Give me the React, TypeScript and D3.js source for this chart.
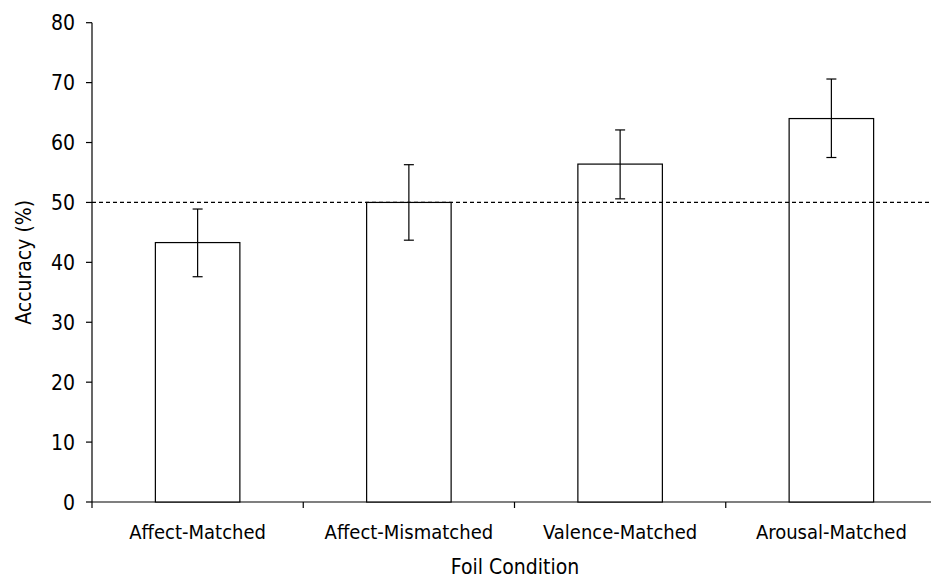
import React, { useEffect, useRef } from "react";
import * as d3 from "d3";

const categories = ["Affect-Matched", "Affect-Mismatched", "Valence-Matched", "Arousal-Matched"];
const accuracy = [43.3, 50.0, 56.4, 64.0];
const errLow = [37.6, 43.7, 50.6, 57.5];
const errHigh = [48.9, 56.3, 62.1, 70.6];
const yTicks = [0, 10, 20, 30, 40, 50, 60, 70, 80];
const chanceLevel = 50;

const WIDTH = 931;
const HEIGHT = 580;
const FONT = "'DejaVu Sans Condensed', 'Liberation Sans Narrow', Arial, sans-serif";

export default function App() {
  const ref = useRef<SVGSVGElement>(null);

  useEffect(() => {
    const svg = d3.select(ref.current);
    svg.selectAll("*").remove();

    const x = d3.scaleBand<string>().domain(categories).range([92, 937]).padding(0);
    const y = d3.scaleLinear().domain([0, 80]).range([502, 22.7]);
    const barW = x.bandwidth() * 0.4;

    // y axis
    const yAxis = svg.append("g").attr("transform", "translate(92,0)");
    yAxis.append("line").attr("y1", y(80)).attr("y2", y(0)).attr("stroke", "#000").attr("stroke-width", 1.2);
    yAxis
      .selectAll("g.tick")
      .data(yTicks)
      .join("g")
      .attr("class", "tick")
      .each(function (d) {
        const g = d3.select(this);
        g.append("line").attr("x1", -6).attr("x2", 0).attr("y1", y(d)).attr("y2", y(d)).attr("stroke", "#000").attr("stroke-width", 1.2);
        g.append("text")
          .attr("x", -17)
          .attr("y", y(d))
          .attr("dy", "0.36em")
          .attr("text-anchor", "end")
          .attr("font-size", 21)
          .attr("font-family", FONT)
          .text(d);
      });

    // x axis
    const xAxis = svg.append("g");
    xAxis.append("line").attr("x1", 92).attr("x2", WIDTH).attr("y1", y(0)).attr("y2", y(0)).attr("stroke", "#000").attr("stroke-width", 1.2);
    const bounds = categories.map((c) => x(c)!).concat([x(categories[3])! + x.bandwidth()]);
    xAxis
      .selectAll("line.tk")
      .data(bounds)
      .join("line")
      .attr("class", "tk")
      .attr("x1", (d) => d)
      .attr("x2", (d) => d)
      .attr("y1", y(0))
      .attr("y2", y(0) + 6)
      .attr("stroke", "#000")
      .attr("stroke-width", 1.2);
    xAxis
      .selectAll("text")
      .data(categories)
      .join("text")
      .attr("x", (d) => x(d)! + x.bandwidth() / 2)
      .attr("y", 539)
      .attr("text-anchor", "middle")
      .attr("font-size", 20)
      .attr("font-family", FONT)
      .text((d) => d);

    // bars
    svg
      .append("g")
      .selectAll("rect")
      .data(categories)
      .join("rect")
      .attr("x", (d) => x(d)! + x.bandwidth() / 2 - barW / 2)
      .attr("y", (d, i) => y(accuracy[i]))
      .attr("width", barW)
      .attr("height", (d, i) => y(0) - y(accuracy[i]))
      .attr("fill", "#fff")
      .attr("stroke", "#000")
      .attr("stroke-width", 1.2);

    // chance line
    svg
      .append("line")
      .attr("x1", 92)
      .attr("x2", WIDTH)
      .attr("y1", y(chanceLevel))
      .attr("y2", y(chanceLevel))
      .attr("stroke", "#000")
      .attr("stroke-width", 1.2)
      .attr("stroke-dasharray", "4,3");

    // error bars
    const eb = svg.append("g").attr("stroke", "#000").attr("stroke-width", 1.2);
    categories.forEach((c, i) => {
      const cx = x(c)! + x.bandwidth() / 2;
      eb.append("line").attr("x1", cx).attr("x2", cx).attr("y1", y(errLow[i])).attr("y2", y(errHigh[i]));
      eb.append("line").attr("x1", cx - 5).attr("x2", cx + 5).attr("y1", y(errLow[i])).attr("y2", y(errLow[i]));
      eb.append("line").attr("x1", cx - 5).attr("x2", cx + 5).attr("y1", y(errHigh[i])).attr("y2", y(errHigh[i]));
    });

    // titles
    svg
      .append("text")
      .attr("x", 515)
      .attr("y", 574)
      .attr("text-anchor", "middle")
      .attr("font-size", 21)
      .attr("font-family", FONT)
      .text("Foil Condition");
    svg
      .append("text")
      .attr("transform", `translate(31,${y(40)}) rotate(-90)`)
      .attr("text-anchor", "middle")
      .attr("font-size", 21)
      .attr("font-family", FONT)
      .text("Accuracy (%)");
  }, []);

  return (
    <svg
      ref={ref}
      width={WIDTH}
      height={HEIGHT}
      style={{ position: "absolute", left: 0, top: 0, background: "#fff" }}
    />
  );
}
